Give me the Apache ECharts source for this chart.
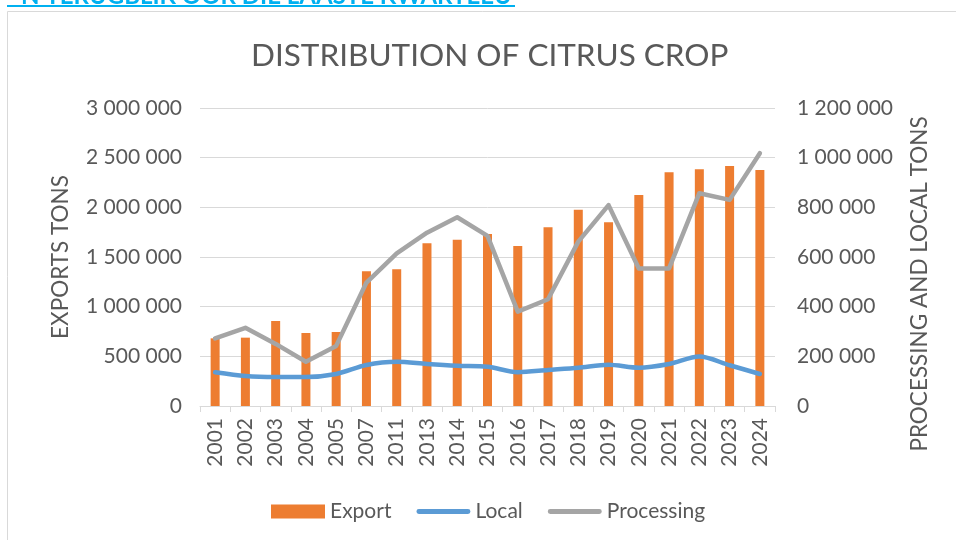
<!DOCTYPE html>
<html>
<head>
<meta charset="utf-8">
<script src="https://cdn.jsdelivr.net/npm/echarts@6/dist/echarts.min.js"></script>
<style>
  html, body { margin: 0; padding: 0; background: #fff; }
  #chart { width: 956px; height: 540px; }
</style>
</head>
<body>
<div id="chart"></div>
<script>
const years = ['2001', '2002', '2003', '2004', '2005', '2007', '2011', '2013', '2014', '2015',
  '2016', '2017', '2018', '2019', '2020', '2021', '2022', '2023', '2024']
const exportTons = [681000, 688000, 856000, 735000, 745000, 1356000, 1376000, 1638000, 1674000, 1732000,
  1611000, 1799000, 1976000, 1849000, 2124000, 2352000, 2383000, 2416000, 2376000]
const localTons = [136000, 121000, 117000, 117000, 129000, 165000, 178000, 169000, 162000, 158000,
  136000, 145000, 154000, 166000, 154000, 169000, 199000, 164000, 129000]
const processingTons = [272000, 315000, 250000, 178000, 242000, 497000, 615000, 698000, 760000, 685000,
  380000, 430000, 662000, 809000, 554000, 554000, 857000, 830000, 1018000]

const textColor = '#595959'
const font = 'Lato'
// thin rounded bar used as legend icon for the two lines
const lineIcon = 'path://M2.5,0 L52.5,0 A2.5,2.5 0 0 1 52.5,5 L2.5,5 A2.5,2.5 0 0 1 2.5,0 Z'

const spaced = v => String(v).replace(/\B(?=(\d{3})+(?!\d))/g, ' ')

const chart = echarts.init(document.getElementById('chart'))

chart.setOption({
  animation: false,
  textStyle: { fontFamily: font, color: textColor },
  title: {
    text: 'DISTRIBUTION OF CITRUS CROP',
    left: 246,
    top: 35,
    textStyle: { fontFamily: font, fontSize: 31.5, fontWeight: 'normal', color: textColor }
  },
  graphic: [
    {
      type: 'rect',
      shape: { x: 7.5, y: 11.5, width: 1000, height: 600 },
      style: { fill: 'none', stroke: '#D9D9D9', lineWidth: 1 },
      silent: true
    },
    {
      type: 'text',
      x: 16,
      y: 8,
      style: {
        text: "'N TERUGBLIK OOR DIE LAASTE KWARTEEU",
        fill: '#00B0F0',
        font: 'bold 24px ' + font,
        verticalAlign: 'bottom'
      }
    },
    {
      type: 'line',
      shape: { x1: 7, y1: 6, x2: 515, y2: 6 },
      style: { stroke: '#00B0F0', lineWidth: 2 }
    },
    {
      type: 'text',
      x: 920,
      y: 284,
      rotation: Math.PI / 2,
      style: {
        text: 'PROCESSING AND LOCAL TONS',
        fill: textColor,
        font: '22.5px ' + font,
        align: 'center',
        verticalAlign: 'middle'
      }
    }
  ],
  legend: {
    top: 496,
    left: 266,
    itemWidth: 54,
    itemHeight: 14,
    itemGap: 25,
    textStyle: { fontFamily: font, fontSize: 21, color: textColor },
    data: [
      { name: 'Export', icon: 'rect' },
      { name: 'Local', icon: lineIcon },
      { name: 'Processing', icon: lineIcon }
    ]
  },
  grid: { left: 200, right: 181, top: 108, bottom: 134 },
  xAxis: {
    type: 'category',
    data: years,
    axisLine: { lineStyle: { color: '#D9D9D9', width: 1 } },
    axisTick: { show: true, length: 6, lineStyle: { color: '#D9D9D9' } },
    axisLabel: { rotate: 90, fontSize: 21, color: textColor, margin: 12, fontFamily: font }
  },
  yAxis: [
    {
      type: 'value',
      min: 0,
      max: 3000000,
      interval: 500000,
      name: 'EXPORTS TONS',
      nameLocation: 'middle',
      nameGap: 128,
      nameTextStyle: { fontSize: 22.5, color: textColor, fontFamily: font },
      axisLine: { show: false },
      axisTick: { show: false },
      splitLine: { lineStyle: { color: '#D9D9D9', width: 1 } },
      axisLabel: { fontSize: 21, color: textColor, margin: 18, formatter: spaced, fontFamily: font }
    },
    {
      type: 'value',
      min: 0,
      max: 1200000,
      interval: 200000,
      axisLine: { show: false },
      axisTick: { show: false },
      splitLine: { show: false },
      axisLabel: { fontSize: 21, color: textColor, margin: 22, formatter: spaced, fontFamily: font }
    }
  ],
  series: [
    {
      name: 'Export',
      type: 'bar',
      data: exportTons,
      barWidth: 9,
      itemStyle: { color: '#ED7D31' }
    },
    {
      name: 'Local',
      type: 'line',
      yAxisIndex: 1,
      data: localTons,
      symbol: 'none',
      smooth: 0.3,
      lineStyle: { color: '#5B9BD5', width: 4.5, cap: 'round' },
      itemStyle: { color: '#5B9BD5' }
    },
    {
      name: 'Processing',
      type: 'line',
      yAxisIndex: 1,
      data: processingTons,
      symbol: 'none',
      lineStyle: { color: '#A5A5A5', width: 4.5, cap: 'round', join: 'round' },
      itemStyle: { color: '#A5A5A5' }
    }
  ]
})

window.addEventListener('resize', () => chart.resize())
</script>
</body>
</html>
